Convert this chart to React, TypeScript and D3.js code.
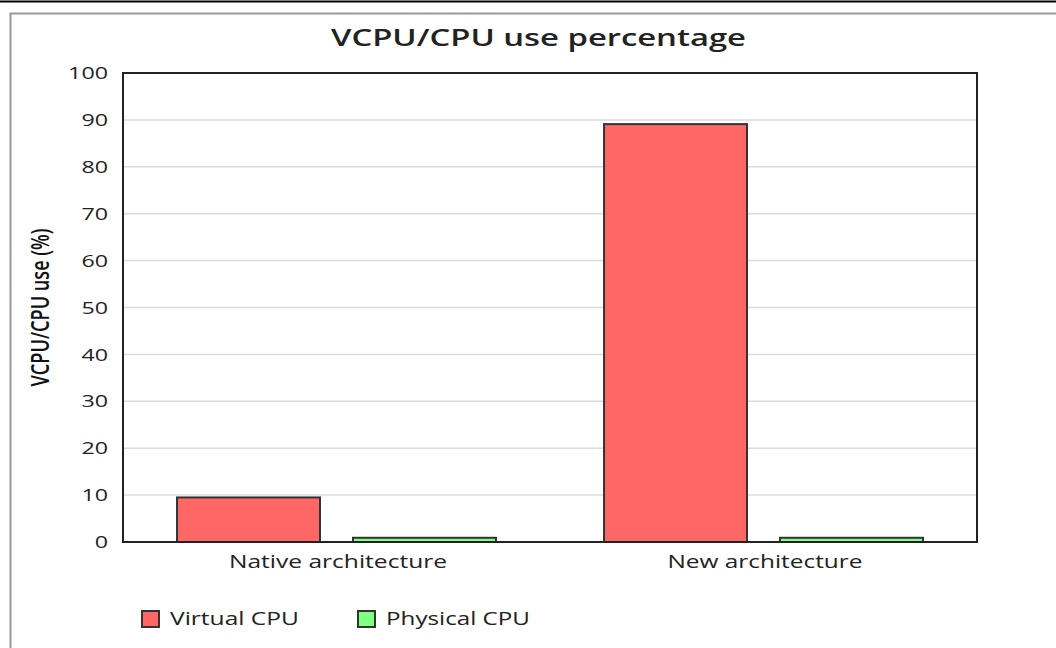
import React from "react";
import * as d3 from "d3";

const categories = ["Native architecture", "New architecture"];
const seriesNames = ["Virtual CPU", "Physical CPU"];
const virtualCpu = [9.5, 89.1];
const physicalCpu = [0.9, 0.9];
const seriesColors = ["#FF6666", "#80FF80"];
const yTicks = [0, 10, 20, 30, 40, 50, 60, 70, 80, 90, 100];
const title = "VCPU/CPU use percentage";
const yTitle = "VCPU/CPU use (%)";

const W = 1056;
const H = 648;
const FONT = "'Open Sans', 'Noto Sans', sans-serif";
// the reference rendering is horizontally stretched; these widths match it
const categoryLabelWidths = [218, 195];
const legendLabelWidths = [129, 144];
const tickDigitWidth = 13.3;

export default function App() {
  const plot = { left: 123, right: 977, top: 73, bottom: 542 };
  const x0 = d3
    .scaleBand<string>()
    .domain(categories)
    .range([plot.left, plot.right])
    .paddingInner(0)
    .paddingOuter(0);
  const x1 = d3
    .scaleBand<string>()
    .domain(seriesNames)
    .range([0, x0.bandwidth()])
    .paddingInner(0.1875)
    .paddingOuter(0.307);
  const y = d3.scaleLinear().domain([0, 100]).range([plot.bottom, plot.top]);
  const values = [virtualCpu, physicalCpu];

  return (
    <svg
      width={W}
      height={H}
      style={{ position: "absolute", left: 0, top: 0, background: "#fff" }}
      fontFamily={FONT}
    >
      <rect x={0} y={0} width={W} height={H} fill="#fff" />
      <line x1={0} x2={W} y1={1.5} y2={1.5} stroke="#000" strokeWidth={2} />
      <path d={`M10.5,${H} V13.5 H${W}`} fill="none" stroke="#999" strokeWidth={2} />
      <text
        x={538.5}
        y={46}
        textAnchor="middle"
        fontSize={24}
        fontWeight={600}
        fill="#222"
        textLength={415}
        lengthAdjust="spacingAndGlyphs"
      >
        {title}
      </text>
      {yTicks.map((t) => (
        <g key={t}>
          {t > 0 && t < 100 && (
            <line
              x1={plot.left}
              x2={plot.right}
              y1={y(t)}
              y2={y(t)}
              stroke="#dcdcdc"
              strokeWidth={1.5}
            />
          )}
          <text
            x={108}
            y={y(t)}
            dy="0.36em"
            textAnchor="end"
            fontSize={17}
            fill="#222"
            textLength={String(t).length * tickDigitWidth}
            lengthAdjust="spacingAndGlyphs"
          >
            {t}
          </text>
        </g>
      ))}
      <text
        transform={`translate(49,${(plot.top + plot.bottom) / 2}) scale(1.45,1) rotate(-90)`}
        textAnchor="middle"
        fontSize={17}
        fontWeight={600}
        fill="#111"
        textLength={158}
        lengthAdjust="spacingAndGlyphs"
      >
        {yTitle}
      </text>
      {categories.map((c, ci) => (
        <g key={c}>
          {seriesNames.map((s, si) => {
            const v = values[si][ci];
            return (
              <rect
                key={s}
                x={(x0(c) ?? 0) + (x1(s) ?? 0)}
                y={y(v)}
                width={x1.bandwidth()}
                height={y(0) - y(v)}
                fill={seriesColors[si]}
                stroke="#333"
                strokeWidth={2}
              />
            );
          })}
          <text
            x={(x0(c) ?? 0) + x0.bandwidth() / 2 + 1.5}
            y={568}
            textAnchor="middle"
            fontSize={18}
            fill="#222"
            textLength={categoryLabelWidths[ci]}
            lengthAdjust="spacingAndGlyphs"
          >
            {c}
          </text>
        </g>
      ))}
      <rect
        x={plot.left}
        y={plot.top}
        width={plot.right - plot.left}
        height={plot.bottom - plot.top}
        fill="none"
        stroke="#222"
        strokeWidth={2}
      />
      {seriesNames.map((s, i) => {
        const lx = [142, 358][i];
        return (
          <g key={s}>
            <rect
              x={lx}
              y={611}
              width={17}
              height={16}
              fill={seriesColors[i]}
              stroke="#333"
              strokeWidth={2}
            />
            <text
              x={lx + 28}
              y={619}
              dy="0.36em"
              fontSize={18}
              fill="#222"
              textLength={legendLabelWidths[i]}
              lengthAdjust="spacingAndGlyphs"
            >
              {s}
            </text>
          </g>
        );
      })}
    </svg>
  );
}
